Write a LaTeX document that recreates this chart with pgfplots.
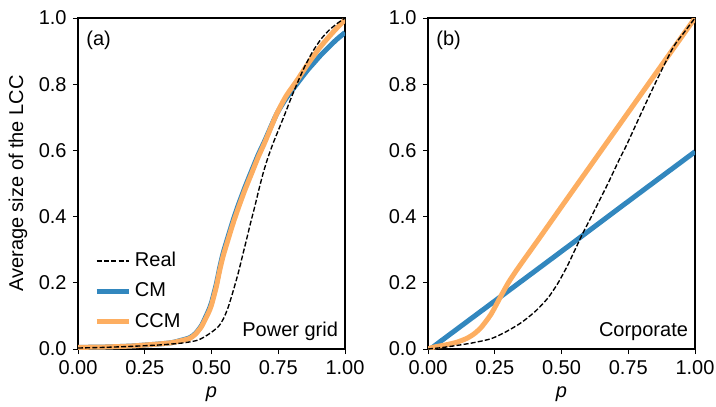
\documentclass[border=0pt]{standalone}
\usepackage{pgfplots}
\pgfplotsset{compat=1.18}
\usepackage{fontspec}
\setmainfont{Liberation Sans}
\definecolor{cmblue}{RGB}{50,135,190}
\definecolor{ccmorange}{RGB}{253,174,97}
\newcommand{\ff}{\fontsize{11}{13}\selectfont}
\pgfplotsset{
  myax/.style={
    scale only axis, width=146.85pt, height=182.05pt,
    xmin=0, xmax=1, ymin=0, ymax=1,
    xtick={0,0.25,0.5,0.75,1}, ytick={0,0.2,0.4,0.6,0.8,1},
    xticklabels={0.00,0.25,0.50,0.75,1.00},
    yticklabels={0.0,0.2,0.4,0.6,0.8,1.0},
    tick align=outside, tick pos=left, major tick length=2.75pt,
    every tick/.style={black, line width=0.55pt},
    axis line style={line width=0.6pt},
    tick label style={font=\ff},
    label style={font=\ff},
    xlabel={\textit{p}},
    xlabel style={at={(axis description cs:0.5,-0.148)}, anchor=base},
  },
  realst/.style={black, line width=0.75pt, dash pattern=on 2.75pt off 1.2pt},
  cmst/.style={cmblue, line width=2.75pt},
  ccmst/.style={ccmorange, line width=2.75pt},
}
\begin{document}
\begin{tikzpicture}
\useasboundingbox (-42.9pt,-31.35pt) rectangle (350.9pt,191.95pt);
\begin{axis}[myax, at={(0pt,0pt)}, anchor=south west,
  ylabel={Average size of the LCC},
  ylabel style={at={(axis description cs:-0.2247,0.5)}, anchor=center},
  legend style={at={(0.04,0.035)}, anchor=south west, draw=none, fill=none,
    font=\ff, row sep=3.4pt},
  legend cell align=left,
  legend image code/.code={\draw[#1] (0pt,0pt) -- (12.65pt,0pt); \path (0pt,0pt) -- (17.5pt,0pt);},
]
\addlegendimage{realst}\addlegendentry{Real}
\addlegendimage{cmst}\addlegendentry{CM}
\addlegendimage{ccmst}\addlegendentry{CCM}
% CM
\addplot[cmst, forget plot, smooth, tension=0.4] coordinates {
(0,0.005) (0.1,0.006) (0.2,0.009) (0.25,0.012) (0.3,0.015) (0.35,0.019) (0.38,0.025)
(0.418,0.034) (0.44,0.047) (0.462,0.07) (0.48,0.1) (0.49,0.118) (0.50,0.14) (0.518,0.196)
(0.53,0.243) (0.543,0.288) (0.56,0.334) (0.581,0.389) (0.60,0.434) (0.625,0.488)
(0.65,0.538) (0.675,0.587) (0.70,0.63) (0.744,0.71) (0.78,0.758) (0.819,0.80)
(0.86,0.843) (0.881,0.862) (0.906,0.885) (0.944,0.916) (0.97,0.936) (1,0.956)};
% CCM
\addplot[ccmst, forget plot, smooth, tension=0.4] coordinates {
(0,0.005) (0.1,0.006) (0.2,0.009) (0.25,0.012) (0.3,0.015) (0.35,0.019) (0.38,0.024)
(0.418,0.032) (0.44,0.045) (0.462,0.067) (0.48,0.095) (0.49,0.112) (0.50,0.133) (0.518,0.188)
(0.53,0.235) (0.543,0.279) (0.56,0.325) (0.581,0.38) (0.60,0.425) (0.625,0.48)
(0.65,0.53) (0.675,0.58) (0.70,0.625) (0.744,0.71) (0.78,0.765) (0.819,0.81)
(0.86,0.86) (0.906,0.911) (0.944,0.947) (0.97,0.97) (1,0.995)};
% Real
\addplot[realst, forget plot, smooth, tension=0.4] coordinates {
(0,0.003) (0.1,0.005) (0.2,0.008) (0.3,0.012) (0.35,0.015) (0.4,0.019) (0.45,0.027)
(0.49,0.045) (0.525,0.067) (0.545,0.092) (0.562,0.125) (0.58,0.172) (0.60,0.229)
(0.615,0.278) (0.631,0.33) (0.646,0.38) (0.662,0.43) (0.677,0.48) (0.693,0.53)
(0.71,0.575) (0.73,0.62) (0.75,0.66) (0.775,0.71) (0.80,0.762) (0.825,0.81)
(0.85,0.855) (0.88,0.9) (0.91,0.936) (0.94,0.963) (0.97,0.983) (1,1.0)};
\node[anchor=north west, inner sep=0pt, font=\ff] at (rel axis cs:0.03,0.962) {(a)};
\node[anchor=base east, inner sep=0pt, font=\ff] at (rel axis cs:0.975,0.039) {Power grid};
\end{axis}
\begin{axis}[myax, at={(192.5pt,0pt)}, anchor=south west]
% CM
\addplot[cmst, smooth, tension=0.4] coordinates {
(0,0) (0.01,0.001) (0.05,0.025) (0.1,0.055) (0.25,0.145) (0.5,0.295) (0.75,0.446) (1,0.596)};
% CCM
\addplot[ccmst, smooth, tension=0.4] coordinates {
(0,0) (0.023,0.006) (0.07,0.013) (0.11,0.021) (0.145,0.032) (0.173,0.046) (0.2,0.066)
(0.236,0.105) (0.273,0.16) (0.3,0.199) (0.325,0.23) (0.35,0.259) (0.411,0.328)
(0.5,0.43) (0.6,0.544) (0.75,0.715) (1,1.0)};
% Real
\addplot[realst, smooth, tension=0.4] coordinates {
(0,0) (0.05,0.004) (0.11,0.011) (0.17,0.019) (0.236,0.031) (0.292,0.052) (0.35,0.08)
(0.405,0.116) (0.45,0.155) (0.486,0.198) (0.52,0.248) (0.549,0.297) (0.58,0.35)
(0.612,0.40) (0.643,0.45) (0.674,0.50) (0.718,0.575) (0.743,0.615) (0.80,0.715)
(0.856,0.811) (0.918,0.911) (0.956,0.953) (1,1.0)};
\node[anchor=north west, inner sep=0pt, font=\ff] at (rel axis cs:0.03,0.962) {(b)};
\node[anchor=base east, inner sep=0pt, font=\ff] at (rel axis cs:0.975,0.039) {Corporate};
\end{axis}
\end{tikzpicture}
\end{document}
